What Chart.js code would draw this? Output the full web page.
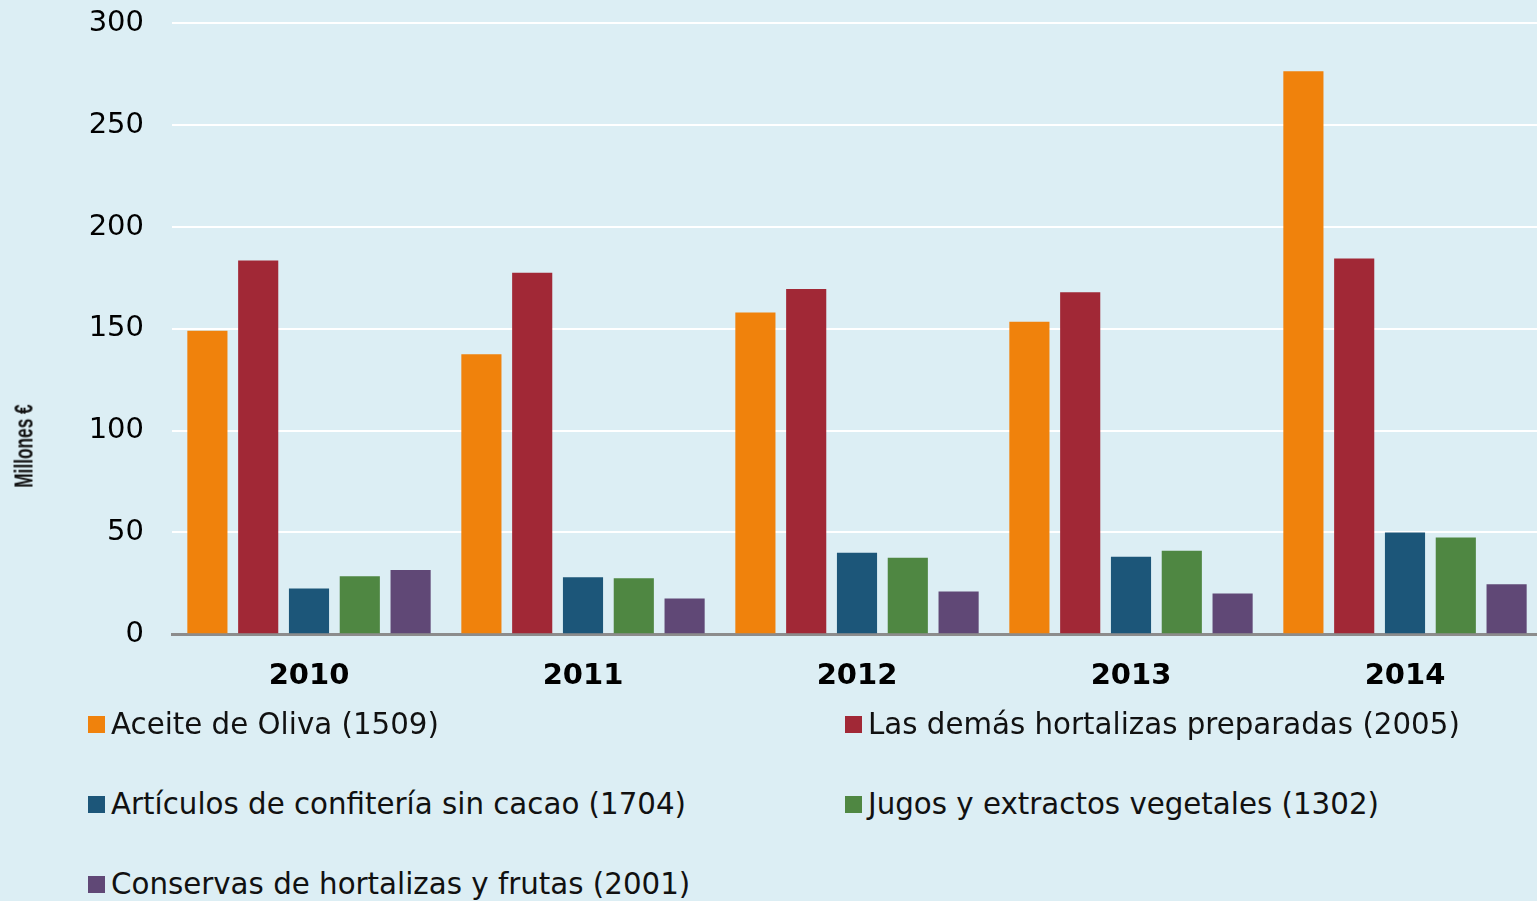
<!DOCTYPE html>
<html>
<head>
<meta charset="utf-8">
<script src="https://cdn.jsdelivr.net/npm/chart.js@4"></script>
<style>
  body { margin: 0; background: #dceef4; }
  #wrap { position: relative; width: 1537px; height: 901px; background: #dceef4; overflow: hidden; }
  #box { position: absolute; left: 0; top: -22px; width: 1542px; height: 750px; }
  #ytitle {
    position: absolute; left: 24px; top: 446px;
    font-family: "Liberation Sans", Arial, sans-serif; font-weight: bold; font-size: 25px;
    white-space: nowrap; color: #111;
    transform: translate(-50%, -50%) rotate(-90deg) scaleX(0.69);
  }
  .ley { position: absolute; font-family: "DejaVu Sans", Verdana, sans-serif; font-size: 29.3px; color: #111; white-space: nowrap; line-height: 34px; }
  .ley span.sq { display: inline-block; width: 17px; height: 17px; margin-right: 6px; vertical-align: 1px; }
</style>
</head>
<body>
<div id="wrap">
  <div id="box"><canvas id="grafico"></canvas></div>
  <div id="ytitle">Millones €</div>
  <div id="leyenda"></div>
</div>
<script>
// datos
let anios = ["2010", "2011", "2012", "2013", "2014"];
let nombres = [
    "Aceite de Oliva (1509)",
    "Las demás hortalizas preparadas (2005)",
    "Artículos de confitería sin cacao (1704)",
    "Jugos y extractos vegetales (1302)",
    "Conservas de hortalizas y frutas (2001)"
];
let aceite = [149, 137.5, 158, 153.5, 276.5];
let hortalizas = [183.5, 177.5, 169.5, 168, 184.5];
let confiteria = [22.5, 28, 40, 38, 50];
let jugos = [28.5, 27.5, 37.5, 41, 47.5];
let conservas = [31.5, 17.5, 21, 20, 24.5];
let colores = ["#f0820c", "#a12836", "#1c5679", "#4f8742", "#604876"];
let ticksY = [0, 50, 100, 150, 200, 250, 300];

let series = [aceite, hortalizas, confiteria, jugos, conservas];

// leyenda en html (dos columnas)
const ley = document.getElementById("leyenda");
let posX = [88, 845];
let posY = [707, 787, 867];
for (let i = 0; i < nombres.length; i++) {
    let d = document.createElement("div");
    d.className = "ley";
    d.style.left = posX[i % 2] + "px";
    d.style.top = posY[Math.floor(i / 2)] + "px";
    let sq = document.createElement("span");
    sq.className = "sq";
    sq.style.background = colores[i];
    d.appendChild(sq);
    d.appendChild(document.createTextNode(nombres[i]));
    ley.appendChild(d);
}

const ctx = document.getElementById("grafico");
new Chart(ctx, {
    type: "bar",
    data: {
        labels: anios,
        datasets: series.map((s, i) => ({
            label: nombres[i],
            data: s,
            backgroundColor: colores[i],
            barPercentage: 0.79,
            categoryPercentage: 0.927
        }))
    },
    options: {
        responsive: true,
        maintainAspectRatio: false,
        animation: false,
        layout: { padding: { top: 5, right: 0, bottom: 9, left: 0 } },
        plugins: {
            legend: { display: false },
            tooltip: { enabled: false }
        },
        scales: {
            x: {
                grid: { display: false, drawTicks: false },
                border: { display: true, color: "#8c8c8c", width: 3 },
                ticks: {
                    color: "#000",
                    padding: 25,
                    font: { family: "DejaVu Sans", size: 29, weight: "bold" }
                }
            },
            y: {
                min: 0,
                max: 300,
                afterBuildTicks: s => { s.ticks = ticksY.map(v => ({ value: v })); },
                afterFit: s => { s.width = 172; },
                grid: { color: "#ffffff", lineWidth: 2, drawTicks: false },
                border: { display: false },
                ticks: {
                    color: "#000",
                    padding: 28,
                    font: { family: "DejaVu Sans", size: 29 }
                }
            }
        }
    }
});
</script>
</body>
</html>
